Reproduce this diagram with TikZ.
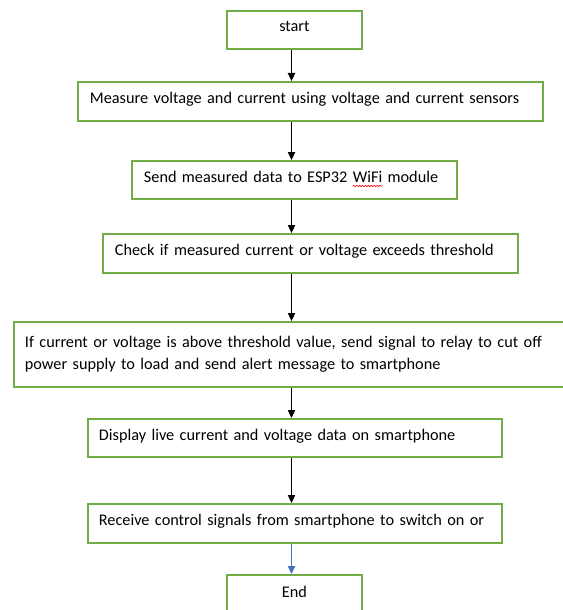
\documentclass[tikz,border=0pt]{standalone}
\usepackage{fontspec}
\setmainfont{Carlito}
\usetikzlibrary{arrows.meta,decorations.pathmorphing}

\definecolor{boxgreen}{RGB}{112,173,71}
\definecolor{linkblue}{RGB}{68,114,196}

% red wavy spell-check underline under a word
\newlength\spellwd
\newcommand\spellmark[1]{\settowidth\spellwd{#1}\rlap{\tikz[overlay]\draw[red, line width=0.45pt, decorate, decoration={snake, amplitude=0.55pt, segment length=2.2pt}] (0pt,-2.8pt) -- (\spellwd,-2.8pt);}#1}

\tikzset{
  flowbox/.style={draw=boxgreen, line width=1.4pt, rectangle, anchor=north west,
    inner xsep=9pt, inner ysep=0pt, align=left, text depth=5pt,
    font=\fontsize{12.2}{17}\selectfont},
  endbox/.style={draw=boxgreen, line width=1.4pt, rectangle, anchor=north west,
    inner sep=0pt, align=center, text depth=5pt, font=\fontsize{12.2}{17}\selectfont},
  flowarrow/.style={draw=black, line width=0.75pt, -{Triangle[length=6pt,width=5.5pt]}},
  lastarrow/.style={draw=linkblue, line width=0.75pt, -{Triangle[length=6pt,width=5.5pt]}}
}

\begin{document}
\begin{tikzpicture}[x=0.75pt, y=-0.75pt]
  \clip (0,0) rectangle (563,610);
  \useasboundingbox (0,0) rectangle (563,610);
  \fill[white] (0,0) rectangle (563,610);

  \coordinate (axis) at (291.5,0);

  \node[endbox, minimum width=101.25pt, minimum height=28.5pt] (start) at (226,10) {start};

  \node[flowbox, text width=330.75pt, minimum height=29.25pt] (measure) at (77,81)
    {Measure voltage and current using voltage and current sensors};

  \node[flowbox, text width=225.75pt, minimum height=28.5pt] (send) at (131,160)
    {Send measured data to ESP32 \spellmark{WiFi} module};

  \node[flowbox, text width=293.25pt, minimum height=29.25pt] (check) at (102,233)
    {Check if measured current or voltage exceeds threshold};

  \node[flowbox, inner xsep=8.25pt, text width=399.75pt, minimum height=48.75pt,
        text depth={}, font=\fontsize{12.2}{16.8}\selectfont] (cut) at (13,321)
    {If current or voltage is above threshold value, send signal to relay to cut off\\
     power supply to load and send alert message to smartphone};

  \node[flowbox, inner xsep=8.25pt, text width=294pt, minimum height=28.5pt] (display) at (87,418)
    {Display live current and voltage data on smartphone};

  \node[flowbox, inner xsep=8.25pt, text width=294pt, minimum height=29.25pt] (receive) at (87,503)
    {Receive control signals from smartphone to switch on or};

  \node[endbox, minimum width=101.25pt, minimum height=30pt] (finish) at (226,574) {End};

  \draw[flowarrow] (start.south -| axis) -- (measure.north -| axis);
  \draw[flowarrow] (measure.south -| axis) -- (send.north -| axis);
  \draw[flowarrow] (send.south -| axis) -- (check.north -| axis);
  \draw[flowarrow] (check.south -| axis) -- (cut.north -| axis);
  \draw[flowarrow] (cut.south -| axis) -- (display.north -| axis);
  \draw[flowarrow] (display.south -| axis) -- (receive.north -| axis);
  \draw[lastarrow] (receive.south -| axis) -- (finish.north -| axis);
\end{tikzpicture}
\end{document}
